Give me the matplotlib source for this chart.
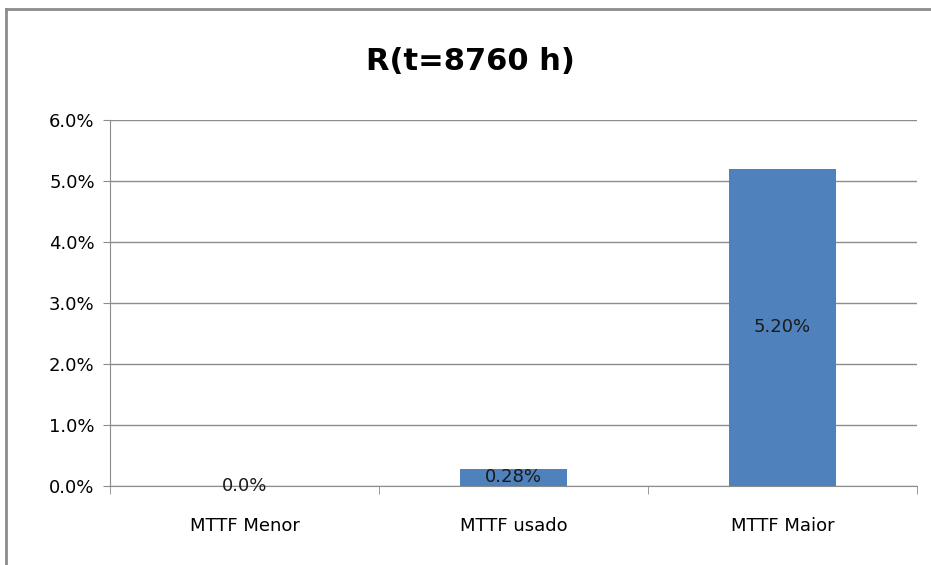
import matplotlib.pyplot as plt
from matplotlib.lines import Line2D
from matplotlib.ticker import FuncFormatter, FixedLocator

categories = ['MTTF Menor', 'MTTF usado', 'MTTF Maior']
values = [0.0, 0.28, 5.20]          # R(t) in percent
value_labels = ['0.0%', '0.28%', '5.20%']
y_ticks = [0, 1, 2, 3, 4, 5, 6]

plt.rcParams['font.family'] = ['Liberation Sans Narrow', 'DejaVu Sans Condensed', 'DejaVu Sans']

fig = plt.figure(figsize=(9.31, 5.65), dpi=100)
ax = fig.add_axes([110 / 931, 79 / 565, 807 / 931, 366 / 565])

# outer chart frame
frame_kw = dict(color='#8c8c8c', lw=2, transform=fig.transFigure)
fig.add_artist(Line2D([6 / 931, 6 / 931], [0, 1 - 9 / 565], **frame_kw))
fig.add_artist(Line2D([6 / 931, 1], [1 - 9 / 565, 1 - 9 / 565], **frame_kw))

x = range(len(categories))
bars = ax.bar(x, values, width=0.4, color='#4f81bd', zorder=3)

for xi, v, lab in zip(x, values, value_labels):
    ax.text(xi, v / 2, lab, ha='center', va='center', fontsize=13,
            color='#1a1a1a', zorder=4)

ax.set_xlim(-0.5, 2.5)
ax.set_ylim(0, 6)
ax.yaxis.set_major_locator(FixedLocator(y_ticks))
ax.yaxis.set_major_formatter(FuncFormatter(lambda v, p: f'{v:.1f}%'))
ax.grid(axis='y', color='#8c8c8c', lw=1, zorder=0)
ax.set_axisbelow(True)

ax.set_xticks(list(x))
ax.set_xticklabels(categories, fontsize=13)
ax.xaxis.set_minor_locator(FixedLocator([-0.5, 0.5, 1.5, 2.5]))
ax.tick_params(axis='x', which='major', length=0, pad=22)
ax.tick_params(axis='x', which='minor', length=6, color='#8c8c8c')
ax.tick_params(axis='y', length=5, color='#8c8c8c', labelsize=13, pad=6)

for s in ['top', 'right']:
    ax.spines[s].set_visible(False)
ax.spines['left'].set_color('#8c8c8c')
ax.spines['bottom'].set_color('#8c8c8c')

fig.text(470 / 931, 1 - 62 / 565, 'R(t=8760 h)', ha='center', va='center',
         fontsize=22, fontweight='bold')

fig.savefig('out.png', dpi=100)
